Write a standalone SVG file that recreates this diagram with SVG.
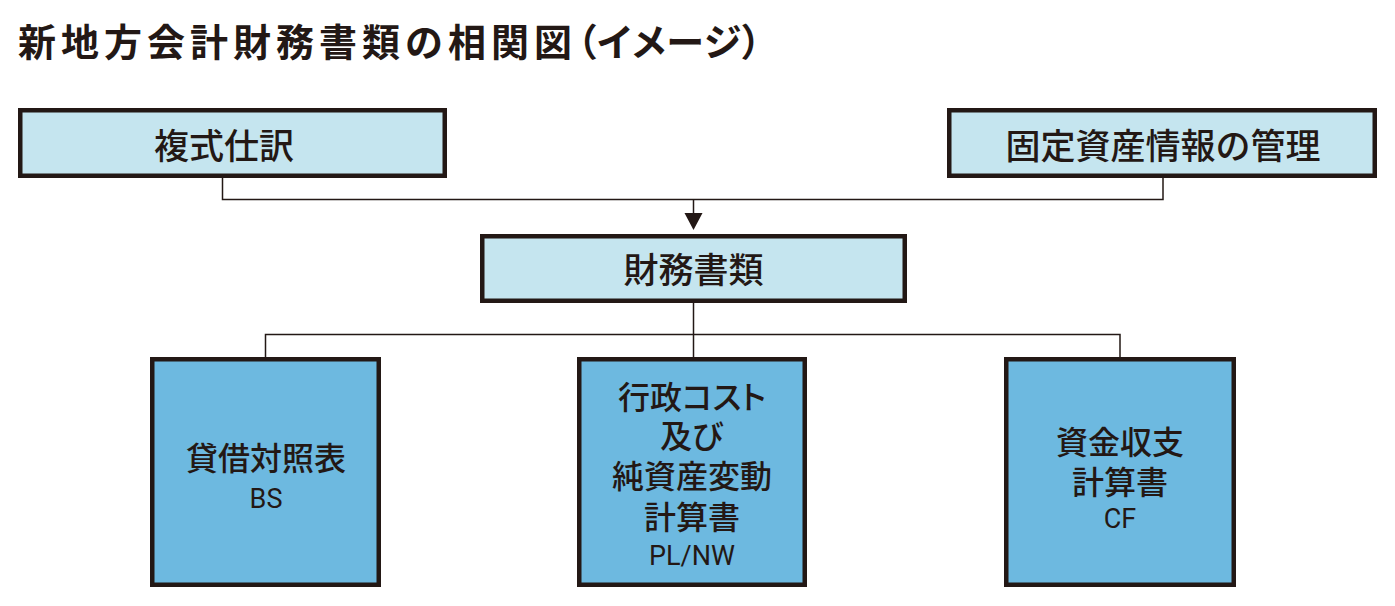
<svg xmlns="http://www.w3.org/2000/svg" width="1395" height="606" viewBox="0 0 1395 606">
<defs>
<style>
.title{font-family:"Noto Sans CJK JP","Noto Sans CJK SC",sans-serif;font-weight:700;font-size:38px;fill:#231815}
.paren{font-feature-settings:"palt" 1}
.lbl{font-family:"Noto Sans CJK JP","Noto Sans CJK SC",sans-serif;font-weight:500;fill:#231815;text-anchor:middle;dominant-baseline:central}
.top{font-size:35px}
.bot{font-size:32px}
.abbr{font-family:Roboto,"Liberation Sans",sans-serif;font-size:27px;fill:#231815;text-anchor:middle}
.light{fill:#c5e5ef;stroke:#231815;stroke-width:4.5}
.dark{fill:#6db9e0;stroke:#231815;stroke-width:4.5}
.conn{fill:none;stroke:#231815;stroke-width:1.5}
</style>
</defs>
<rect width="1395" height="606" fill="#ffffff"/>
<text class="title" x="18" y="56"><tspan letter-spacing="5">新地方会計財務書類の相関図</tspan><tspan class="paren" letter-spacing="1">（イメージ）</tspan></text>
<g id="connectors">
<path class="conn" d="M222.5,178 V199.5 H1163 V178"/>
<path class="conn" d="M693.5,199.5 V222"/>
<path d="M684.5,213 L702.5,213 L693.5,230 Z" fill="#231815"/>
<path class="conn" d="M693.5,302 V357"/>
<path class="conn" d="M265.5,357 V334.5 H1120 V357"/>
</g>
<g id="node-fukushiki">
<rect class="light" x="20.25" y="110.25" width="424.5" height="65.5"/>
<text class="lbl top" x="224" y="143">複式仕訳</text>
</g>
<g id="node-kotei">
<rect class="light" x="949.25" y="110.25" width="425.5" height="65.5"/>
<text class="lbl top" x="1163" y="143">固定資産情報の管理</text>
</g>
<g id="node-zaimu">
<rect class="light" x="482.25" y="236.25" width="422.5" height="64.5"/>
<text class="lbl top" x="693.5" y="267">財務書類</text>
</g>
<g id="node-bs">
<rect class="dark" x="152.25" y="359.25" width="226.5" height="225.5"/>
<text class="lbl bot" x="266" y="456">貸借対照表</text>
<text class="abbr" x="266" y="508">BS</text>
</g>
<g id="node-plnw">
<rect class="dark" x="579.25" y="359.25" width="225.5" height="225.5"/>
<text class="lbl bot" x="692" y="395"><tspan x="692" class="paren">行政コスト</tspan><tspan x="692" dy="39">及び</tspan><tspan x="692" dy="40">純資産変動</tspan><tspan x="692" dy="41">計算書</tspan></text>
<text class="abbr" x="692" y="565">PL/NW</text>
</g>
<g id="node-cf">
<rect class="dark" x="1006.25" y="359.25" width="227.5" height="225.5"/>
<text class="lbl bot" x="1120" y="440"><tspan x="1120">資金収支</tspan><tspan x="1120" dy="40">計算書</tspan></text>
<text class="abbr" x="1120" y="528">CF</text>
</g>
</svg>
